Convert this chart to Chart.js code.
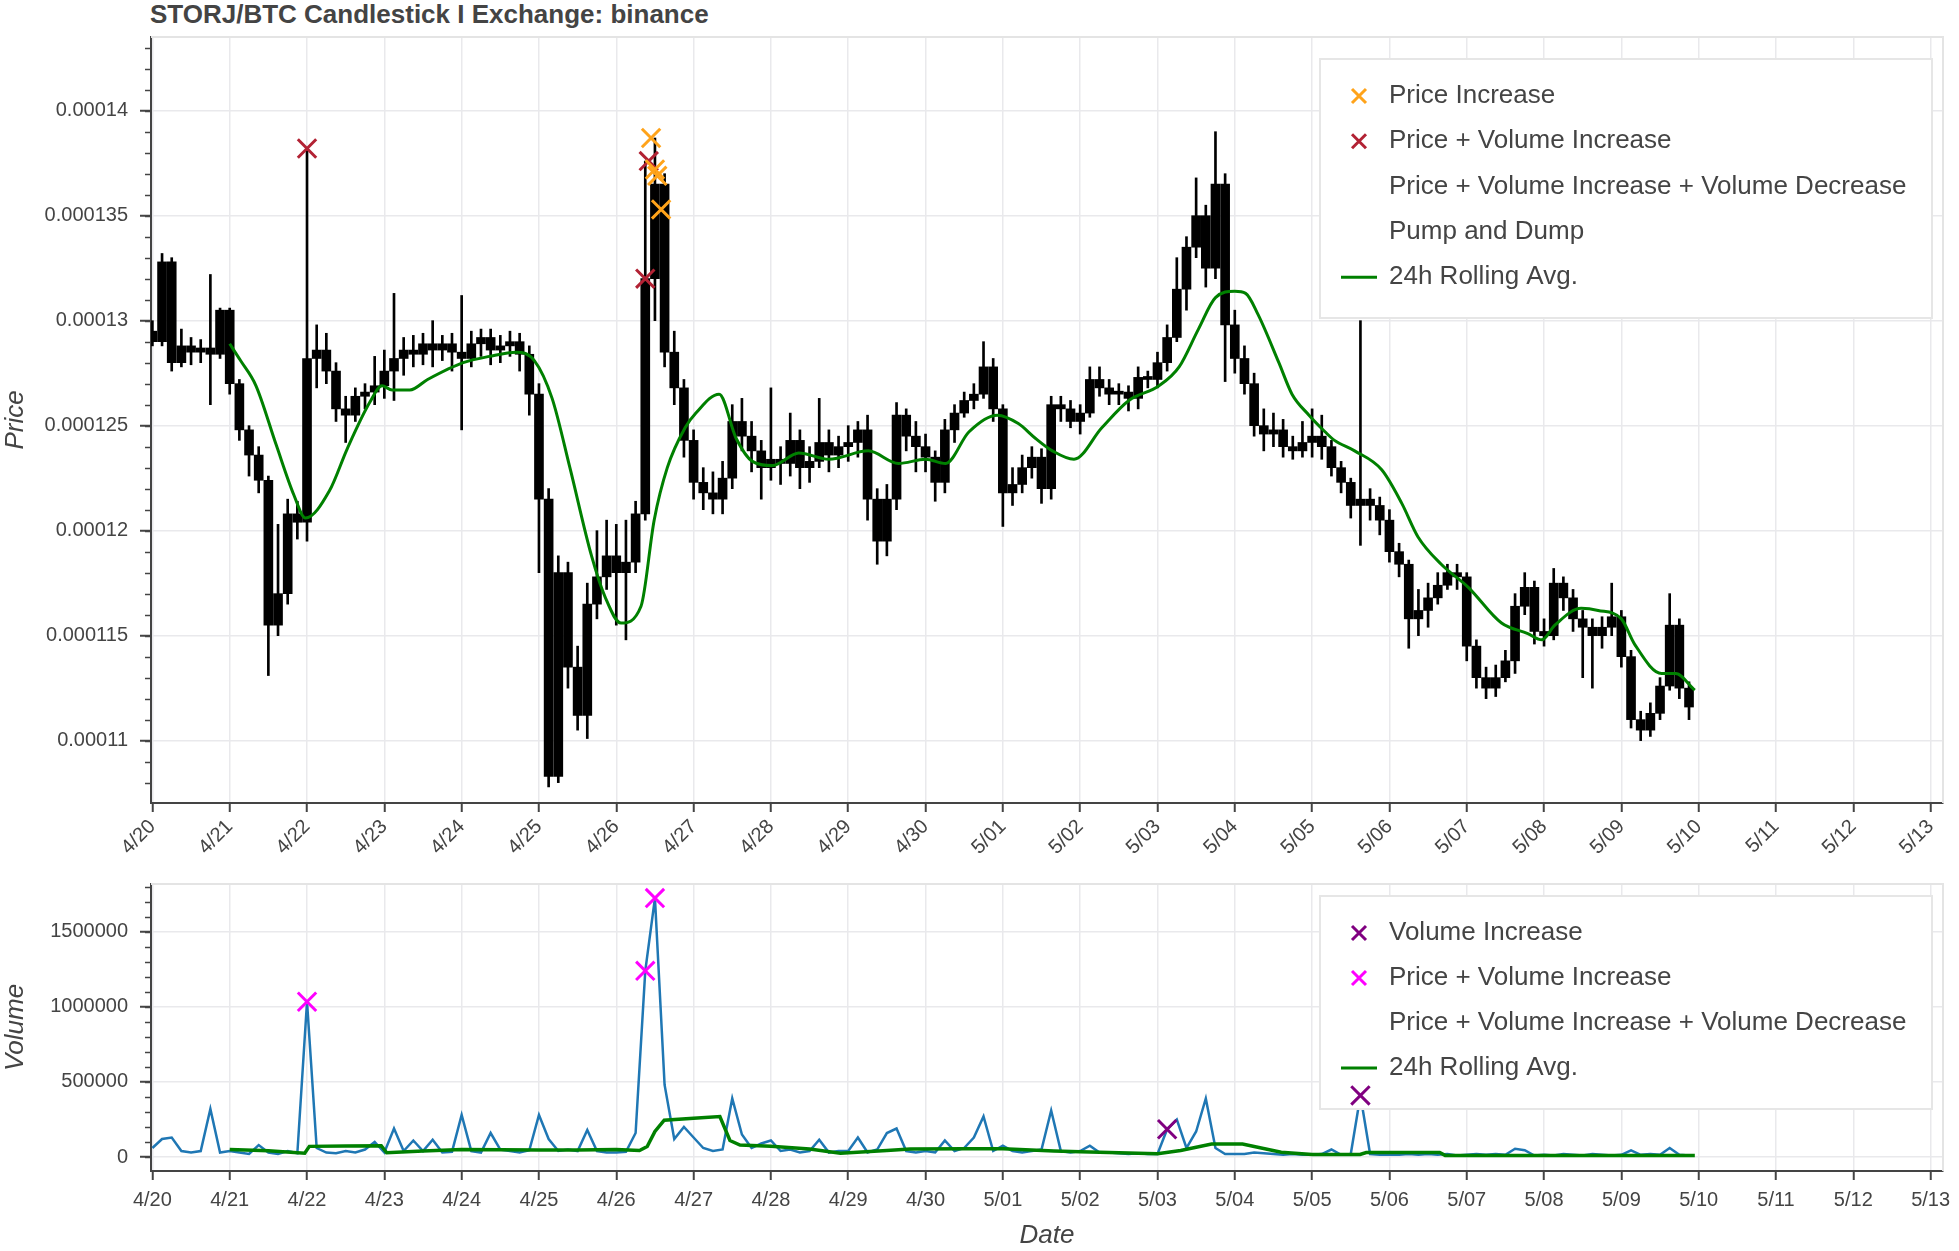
<!DOCTYPE html>
<html>
<head>
<meta charset="utf-8">
<title>STORJ/BTC Candlestick</title>
<script src="https://cdn.jsdelivr.net/npm/chart.js@4.4.1/dist/chart.umd.min.js"></script>
<style>
  html, body { margin: 0; padding: 0; background: #fff; }
  #wrap { position: relative; width: 1959px; height: 1251px; overflow: hidden; }
  #title {
    position: absolute; left: 150px; top: 1px;
    font: bold 26px "Liberation Sans", Arial, sans-serif; line-height: 26px; color: #444;
  }
  #priceBox { position: absolute; left: 0; top: 0; width: 1959px; height: 868px; }
  #volBox { position: absolute; left: 0; top: 868px; width: 1959px; height: 383px; }
</style>
</head>
<body>
<div id="wrap">
  <div id="title">STORJ/BTC Candlestick I Exchange: binance</div>
  <div id="priceBox"><canvas id="priceChart"></canvas></div>
  <div id="volBox"><canvas id="volumeChart"></canvas></div>
</div>
<script>
// prices below are read in micro-BTC, volume in units
const MICRO = 1e-6;
const CANDLE_HOURS = 3; // one candle every 3h starting 4/20 00:00

const dayLabels = ["4/20", "4/21", "4/22", "4/23", "4/24", "4/25", "4/26", "4/27", "4/28", "4/29", "4/30",
   "5/01", "5/02", "5/03", "5/04", "5/05", "5/06", "5/07", "5/08", "5/09", "5/10", "5/11", "5/12", "5/13"];
const priceTickValues = [0.00011, 0.000115, 0.00012, 0.000125, 0.00013, 0.000135, 0.00014];
const volumeTickValues = [0, 500000, 1000000, 1500000];

const openMicro = [
   129.5, 129.0, 132.8, 128.0, 128.8, 128.5, 128.7, 128.4,
   130.5, 127.0, 124.8, 123.6, 122.4, 115.5, 117.0, 120.8,
   120.4, 128.2, 128.6, 127.6, 125.8, 125.5, 126.4, 126.6,
   126.9, 127.6, 128.2, 128.6, 128.4, 128.9, 128.6, 128.9,
   128.5, 128.2, 128.9, 129.2, 128.6, 128.8, 129.0, 128.4,
   126.5, 121.5, 108.3, 118.0, 113.5, 111.2, 116.5, 117.8,
   118.8, 118.0, 118.5, 120.8, 132.0, 136.5, 128.5, 126.8,
   124.3, 122.3, 121.8, 121.5, 122.5, 125.2, 124.5, 123.8,
   123.0, 123.4, 123.2, 124.3, 123.0, 123.3, 124.2, 123.6,
   124.0, 124.2, 124.8, 121.5, 119.5, 121.5, 125.5, 124.5,
   124.0, 123.5, 122.3, 124.8, 125.6, 126.2, 126.5, 127.8,
   125.8, 121.8, 122.2, 123.0, 123.5, 122.0, 126.0, 125.8,
   125.2, 125.6, 127.2, 126.8, 126.5, 126.6, 126.3, 127.3,
   127.2, 128.0, 129.2, 131.5, 133.5, 135.0, 132.5, 136.5,
   129.8, 128.2, 127.0, 125.0, 124.6, 124.8, 124.0, 123.8,
   124.2, 124.5, 124.0, 123.0, 122.3, 121.2, 121.5, 121.2,
   120.5, 119.0, 118.4, 115.8, 116.2, 116.8, 117.4, 118.0,
   117.8, 114.5, 113.0, 112.5, 113.0, 113.8, 116.4, 117.3,
   115.2, 115.0, 117.5, 116.8, 115.8, 115.4, 115.0, 115.4,
   115.9, 114.0, 111.0, 110.5, 111.3, 112.6, 115.5, 112.5
];
const highMicro = [
   130.0, 133.2, 133.0, 129.6, 129.2, 129.1, 132.2, 130.6,
   130.6, 127.2, 125.0, 124.0, 122.6, 120.3, 121.5, 121.4,
   138.2, 129.8, 129.4, 128.0, 126.4, 126.8, 127.0, 128.3,
   128.6, 131.3, 129.2, 129.3, 129.4, 130.0, 129.3, 129.4,
   131.2, 129.5, 129.6, 129.6, 129.3, 129.5, 129.4, 128.8,
   127.0, 122.0, 118.8, 118.5, 114.5, 117.5, 120.0, 120.5,
   120.3, 120.5, 121.4, 137.6, 138.7, 137.0, 129.5, 127.2,
   124.8, 123.0, 122.8, 123.3, 126.0, 126.3, 125.2, 124.3,
   126.8, 124.0, 125.6, 124.8, 124.0, 126.3, 124.8, 124.5,
   125.0, 125.2, 125.5, 122.0, 122.2, 126.1, 125.8, 125.2,
   124.6, 123.8, 125.3, 126.0, 126.6, 127.0, 129.0, 128.2,
   126.0, 123.0, 123.6, 124.0, 123.9, 126.4, 126.4, 126.2,
   126.0, 127.8, 127.8, 127.2, 127.0, 126.9, 127.8, 127.6,
   128.5, 129.8, 133.0, 134.0, 136.8, 135.5, 139.0, 137.0,
   130.5, 128.8, 127.5, 125.8, 125.6, 125.3, 124.5, 125.2,
   125.8, 125.5, 124.3, 123.3, 122.5, 130.0, 122.0, 121.6,
   121.0, 119.4, 118.6, 117.2, 117.5, 118.0, 118.4, 118.4,
   118.0, 114.8, 113.5, 113.6, 114.3, 117.0, 118.0, 117.6,
   115.8, 118.2, 117.8, 117.2, 116.2, 115.8, 115.9, 117.5,
   116.2, 114.3, 111.4, 111.8, 113.0, 117.0, 115.8, 112.8
];
const lowMicro = [
   128.8, 128.8, 127.6, 127.8, 127.9, 128.0, 126.0, 128.2,
   126.5, 124.3, 122.6, 121.8, 113.1, 115.0, 116.5, 119.6,
   119.5, 126.8, 127.0, 125.2, 124.2, 125.2, 125.8, 126.0,
   126.3, 126.2, 127.4, 127.8, 127.9, 127.8, 128.1, 127.6,
   124.8, 127.8, 128.3, 127.9, 128.0, 128.3, 127.6, 125.5,
   118.0, 107.8, 108.0, 112.5, 110.5, 110.1, 115.8, 117.2,
   115.5, 114.8, 118.0, 120.5, 130.0, 127.8, 126.0, 123.5,
   121.5, 121.0, 120.8, 120.8, 122.0, 123.8, 122.8, 121.5,
   122.4, 122.2, 122.6, 122.0, 122.3, 123.0, 122.8, 123.0,
   123.3, 123.5, 120.5, 118.4, 118.8, 121.0, 123.8, 122.8,
   122.8, 121.4, 121.8, 124.2, 125.4, 125.8, 126.3, 125.2,
   120.2, 121.2, 121.8, 122.5, 121.3, 121.5, 125.2, 124.9,
   124.6, 125.4, 126.4, 126.0, 126.0, 125.7, 125.8, 126.8,
   126.8, 127.6, 129.0, 130.5, 133.0, 131.6, 132.0, 127.1,
   127.5, 126.5, 124.5, 123.8, 124.0, 123.5, 123.4, 123.5,
   123.5, 123.4, 122.6, 121.8, 120.6, 119.3, 120.5, 119.8,
   118.5, 117.8, 114.4, 115.0, 115.4, 116.5, 117.2, 117.2,
   113.8, 112.5, 112.0, 112.1, 112.8, 113.2, 116.0, 114.6,
   114.5, 114.8, 116.2, 115.2, 113.0, 112.5, 114.4, 115.0,
   113.5, 110.6, 110.0, 110.2, 111.0, 112.4, 112.0, 111.0
];
const closeMicro = [
   129.0, 132.8, 128.0, 128.8, 128.5, 128.7, 128.4, 130.5,
   127.0, 124.8, 123.6, 122.4, 115.5, 117.0, 120.8, 120.4,
   128.2, 128.6, 127.6, 125.8, 125.5, 126.4, 126.6, 126.9,
   127.6, 128.2, 128.6, 128.4, 128.9, 128.6, 128.9, 128.5,
   128.2, 128.9, 129.2, 128.6, 128.8, 129.0, 128.4, 126.5,
   121.5, 108.3, 118.0, 113.5, 111.2, 116.5, 117.8, 118.8,
   118.0, 118.5, 120.8, 132.0, 136.5, 128.5, 126.8, 124.3,
   122.3, 121.8, 121.5, 122.5, 125.2, 124.5, 123.8, 123.0,
   123.4, 123.2, 124.3, 123.0, 123.3, 124.2, 123.6, 124.0,
   124.2, 124.8, 121.5, 119.5, 121.5, 125.5, 124.5, 124.0,
   123.5, 122.3, 124.8, 125.6, 126.2, 126.5, 127.8, 125.8,
   121.8, 122.2, 123.0, 123.5, 122.0, 126.0, 125.8, 125.2,
   125.6, 127.2, 126.8, 126.5, 126.6, 126.3, 127.3, 127.2,
   128.0, 129.2, 131.5, 133.5, 135.0, 132.5, 136.5, 129.8,
   128.2, 127.0, 125.0, 124.6, 124.8, 124.0, 123.8, 124.2,
   124.5, 124.0, 123.0, 122.3, 121.2, 121.5, 121.2, 120.5,
   119.0, 118.4, 115.8, 116.2, 116.8, 117.4, 118.0, 117.8,
   114.5, 113.0, 112.5, 113.0, 113.8, 116.4, 117.3, 115.2,
   115.0, 117.5, 116.8, 115.8, 115.4, 115.0, 115.4, 115.9,
   114.0, 111.0, 110.5, 111.3, 112.6, 115.5, 112.5, 111.6
];
const volume = [
   60000, 120000, 130000, 40000, 30000, 40000, 320000, 30000,
   40000, 30000, 20000, 80000, 30000, 20000, 40000, 25000,
   1034000, 60000, 30000, 25000, 40000, 30000, 50000, 100000,
   30000, 190000, 40000, 110000, 40000, 115000, 30000, 35000,
   280000, 40000, 30000, 160000, 50000, 40000, 30000, 45000,
   280000, 120000, 40000, 50000, 40000, 180000, 40000, 30000,
   30000, 35000, 160000, 1240000, 1724000, 480000, 120000, 200000,
   130000, 60000, 40000, 50000, 390000, 150000, 60000, 90000,
   110000, 40000, 50000, 30000, 40000, 115000, 30000, 40000,
   40000, 130000, 30000, 50000, 160000, 190000, 40000, 30000,
   40000, 30000, 110000, 40000, 60000, 130000, 270000, 40000,
   75000, 40000, 30000, 40000, 50000, 310000, 40000, 30000,
   40000, 75000, 30000, 30000, 25000, 20000, 25000, 20000,
   20000, 185000, 250000, 60000, 170000, 390000, 60000, 20000,
   20000, 20000, 30000, 25000, 20000, 15000, 20000, 15000,
   15000, 20000, 50000, 15000, 20000, 410000, 20000, 15000,
   15000, 15000, 20000, 15000, 20000, 15000, 20000, 10000,
   15000, 20000, 15000, 20000, 15000, 55000, 45000, 10000,
   15000, 10000, 20000, 15000, 10000, 20000, 15000, 10000,
   15000, 45000, 15000, 20000, 15000, 60000, 15000, 10000
];

// 24h rolling averages (day offset from 4/20 00:00)
const rollDays = [1.0, 1.14, 1.34, 1.6, 1.83, 1.98, 2.29, 2.52, 2.81, 2.97, 3.1, 3.33, 3.56, 4.02, 4.36, 4.71,
   4.94, 5.17, 5.4, 5.68, 5.86, 6.06, 6.32, 6.49, 6.66, 6.89, 7.03, 7.33, 7.55, 7.76, 8.02, 8.36, 8.75, 9.26,
   9.65, 10.0, 10.26, 10.56, 10.93, 11.2, 11.42, 11.64, 11.92, 12.28, 12.63, 13.02, 13.28, 13.53, 13.75, 14.0,
   14.14, 14.3, 14.57, 14.74, 14.96, 15.17, 15.29, 15.55, 15.9, 16.16, 16.37, 16.67, 17.02, 17.45, 17.79,
   17.97, 18.14, 18.48, 18.7, 19.0, 19.17, 19.52, 19.7, 19.95];
const rollPriceMicro = [128.9, 128.1, 126.9, 124.1, 121.7, 120.6, 121.9, 123.9, 126.1, 126.9, 126.7, 126.7, 127.2,
   128.0, 128.3, 128.5, 128.1, 126.3, 123.0, 118.8, 116.8, 115.6, 116.4, 120.5, 123.0, 124.9, 125.6, 126.5,
   124.4, 123.3, 123.1, 123.7, 123.4, 123.8, 123.2, 123.4, 123.2, 124.7, 125.5, 125.1, 124.4, 123.8, 123.4,
   124.9, 126.2, 126.9, 127.8, 129.6, 131.1, 131.4, 131.3, 130.3, 128.0, 126.5, 125.5, 124.7, 124.3, 123.8,
   122.9, 121.3, 119.7, 118.4, 117.3, 115.6, 115.1, 114.8, 115.5, 116.3, 116.2, 115.8, 114.6, 113.2, 113.2, 112.4];
const volRollDays = [1.0, 1.5, 1.97, 2.03, 2.5, 2.96, 3.03, 3.5, 4.0, 4.5, 5.0, 5.5, 6.0, 6.3, 6.4, 6.5, 6.62,
   7.0, 7.34, 7.47, 7.6, 8.0, 8.5, 8.9, 9.5, 9.8, 10.5, 11.0, 11.66, 12.0, 12.5, 13.0, 13.3, 13.7, 14.1, 14.6,
   15.0, 15.62, 15.7, 16.65, 16.72, 19.95];
const volRoll = [50000, 42000, 25000, 71000, 73000, 75000, 28000, 40000, 50000, 48000, 47000, 47000, 50000,
   43000, 70000, 170000, 245000, 258000, 270000, 110000, 80000, 72000, 54000, 25000, 43000, 54000, 55000,
   55000, 40000, 35000, 28000, 22000, 43000, 86000, 86000, 32000, 17000, 17000, 30000, 30000, 11000, 11000];

// signal markers
const priceIncDays = [6.45, 6.5, 6.53, 6.58];
const priceIncMicro = [138.7, 137.2, 136.9, 135.3];
const priceVolIncDays = [2.0, 6.375, 6.42];
const priceVolIncMicro = [138.2, 132.0, 137.6];
const priceVolDecrease = [];
const pumpAndDump = [];
const volIncDays = [13.125, 15.625];
const volIncValues = [185000, 410000];
const volPriceIncDays = [2.0, 6.375, 6.5];
const volPriceIncValues = [1034000, 1240000, 1724000];

const X_MIN = -0.018, X_MAX = 23.16;
const GRID = "#e9e9ec";
const INK = "#444";

Chart.defaults.font.family = '"Liberation Sans", Arial, sans-serif';
Chart.defaults.color = INK;

const candleDays = closeMicro.map((_, i) => (i * CANDLE_HOURS) / 24);
const pts = (xs, ys, k = 1) => xs.map((x, i) => ({ x: x, y: ys[i] * k }));

// light frame, minor ticks and a boxed legend inside the plot
const decorations = {
   id: "decorations",
   beforeDatasetsDraw(chart, args, opts) {
      const a = chart.chartArea;
      const ctx = chart.ctx;
      ctx.save();
      ctx.strokeStyle = "#e4e4e4";
      ctx.lineWidth = 2;
      ctx.beginPath();
      ctx.moveTo(a.left, a.top);
      ctx.lineTo(a.right, a.top);
      ctx.lineTo(a.right, a.bottom);
      ctx.stroke();
      ctx.restore();
   },
   afterDatasetDraw(chart, args, opts) {
      if (args.index !== opts.afterIndex) return;
      const ctx = chart.ctx;
      ctx.save();
      ctx.fillStyle = "#fff";
      ctx.fillRect(opts.x, opts.y, opts.w, opts.h);
      ctx.strokeStyle = "#e6e6e6";
      ctx.lineWidth = 2;
      ctx.strokeRect(opts.x, opts.y, opts.w, opts.h);
      ctx.font = '26px "Liberation Sans", Arial, sans-serif';
      ctx.textBaseline = "middle";
      chart.data.datasets.filter((d) => d.legendGlyph).forEach((d, k) => {
         const cy = opts.rowY + k * opts.rowGap;
         const gx = opts.glyphX;
         ctx.strokeStyle = d.borderColor;
         ctx.lineWidth = 3;
         ctx.beginPath();
         if (d.legendGlyph === "cross") {
            ctx.moveTo(gx - 7, cy - 7);
            ctx.lineTo(gx + 7, cy + 7);
            ctx.moveTo(gx + 7, cy - 7);
            ctx.lineTo(gx - 7, cy + 7);
         } else if (d.legendGlyph === "line") {
            ctx.moveTo(gx - 18, cy);
            ctx.lineTo(gx + 18, cy);
         }
         ctx.stroke();
         ctx.fillStyle = INK;
         ctx.fillText(d.label, opts.textX, cy);
      });
      ctx.restore();
   },
   afterDraw(chart, args, opts) {
      const y = chart.scales.y;
      const ctx = chart.ctx;
      ctx.save();
      ctx.strokeStyle = INK;
      ctx.lineWidth = 1.5;
      const first = Math.ceil(y.min / opts.minorStep);
      const last = Math.floor(y.max / opts.minorStep);
      for (let n = first; n <= last; n++) {
         const py = Math.round(y.getPixelForValue(n * opts.minorStep)) + 0.5;
         ctx.beginPath();
         ctx.moveTo(y.right - 6, py);
         ctx.lineTo(y.right, py);
         ctx.stroke();
      }
      ctx.restore();
   },
};

function dayAxis(rotated, title) {
   return {
      type: "linear",
      min: X_MIN,
      max: X_MAX,
      offset: false,
      afterBuildTicks: (s) => {
         s.ticks = dayLabels.map((_, i) => ({ value: i }));
      },
      afterFit: (s) => {
         s.height = rotated ? 65 : 80;
         s.paddingLeft = 0;
         s.paddingRight = 0;
      },
      ticks: {
         autoSkip: false,
         minRotation: rotated ? 45 : 0,
         maxRotation: rotated ? 45 : 0,
         padding: rotated ? 3 : 8,
         color: INK,
         font: { size: 20 },
         callback: (v) => dayLabels[v],
      },
      grid: { color: GRID, lineWidth: 1.5, tickLength: 9, tickColor: INK, tickWidth: 2, offset: false },
      border: { color: INK, width: 2 },
      title: {
         display: !!title,
         text: title,
         color: INK,
         font: { size: 26, style: "italic" },
         padding: { top: 0, bottom: 0 },
      },
   };
}

function valueAxis(min, max, tickValues, title) {
   return {
      type: "linear",
      min: min,
      max: max,
      beginAtZero: false,
      afterBuildTicks: (s) => {
         s.ticks = tickValues.map((v) => ({ value: v }));
      },
      afterFit: (s) => {
         s.width = 151;
         s.paddingTop = 0;
         s.paddingBottom = 0;
      },
      ticks: { color: INK, font: { size: 20 }, padding: 12, callback: (v) => String(v) },
      grid: { color: GRID, lineWidth: 1.5, tickLength: 11, tickColor: INK, tickWidth: 2 },
      border: { color: INK, width: 2 },
      title: { display: true, text: title, color: INK, font: { size: 26, style: "italic" }, padding: 0 },
   };
}

function crossSet(label, color, xs, ys, k) {
   return {
      type: "scatter",
      label: label,
      legendGlyph: "cross",
      data: pts(xs, ys, k),
      pointStyle: "crossRot",
      pointRadius: 13,
      borderWidth: 3,
      borderColor: color,
      backgroundColor: color,
      order: 0,
   };
}

new Chart(document.getElementById("priceChart"), {
   type: "bar",
   data: {
      datasets: [
         crossSet("Price Increase", "#ffa31a", priceIncDays, priceIncMicro, MICRO),
         crossSet("Price + Volume Increase", "#b22234", priceVolIncDays, priceVolIncMicro, MICRO),
         { type: "scatter", label: "Price + Volume Increase + Volume Decrease", legendGlyph: "none", data: priceVolDecrease, borderColor: "#fff" },
         { type: "scatter", label: "Pump and Dump", legendGlyph: "none", data: pumpAndDump, borderColor: "#fff" },
         {
            type: "line",
            label: "24h Rolling Avg.",
            legendGlyph: "line",
            data: pts(rollDays, rollPriceMicro, MICRO),
            borderColor: "#008000",
            borderWidth: 3,
            pointRadius: 0,
            cubicInterpolationMode: "monotone",
            order: 1,
         },
         {
            label: "body",
            data: candleDays.map((d, i) => ({ x: d, y: [openMicro[i] * MICRO, closeMicro[i] * MICRO] })),
            backgroundColor: "#000",
            barPercentage: 1,
            categoryPercentage: 1,
            maxBarThickness: 9,
            minBarLength: 3,
            grouped: false,
            order: 2,
         },
         {
            label: "wick",
            data: candleDays.map((d, i) => ({ x: d, y: [lowMicro[i] * MICRO, highMicro[i] * MICRO] })),
            backgroundColor: "#000",
            barPercentage: 1,
            categoryPercentage: 1,
            maxBarThickness: 2,
            grouped: false,
            order: 3,
         },
      ],
   },
   options: {
      responsive: true,
      maintainAspectRatio: false,
      animation: false,
      events: [],
      layout: { padding: { top: 37, right: 8, left: 0, bottom: 0 } },
      scales: {
         x: dayAxis(true, ""),
         y: valueAxis(0.00010703, 0.00014351, priceTickValues, "Price"),
      },
      plugins: {
         legend: { display: false },
         tooltip: { enabled: false },
         decorations: {
            minorStep: 1e-6,
            afterIndex: 4,
            x: 1320, y: 59, w: 612, h: 259,
            rowY: 96, rowGap: 45.3, glyphX: 1359, textX: 1389,
         },
      },
   },
   plugins: [decorations],
});

new Chart(document.getElementById("volumeChart"), {
   type: "line",
   data: {
      datasets: [
         crossSet("Volume Increase", "#800080", volIncDays, volIncValues, 1),
         crossSet("Price + Volume Increase", "#ff00ff", volPriceIncDays, volPriceIncValues, 1),
         { type: "scatter", label: "Price + Volume Increase + Volume Decrease", legendGlyph: "none", data: priceVolDecrease, borderColor: "#fff" },
         {
            label: "24h Rolling Avg.",
            legendGlyph: "line",
            data: pts(volRollDays, volRoll),
            borderColor: "#008000",
            borderWidth: 3.5,
            pointRadius: 0,
            order: 1,
         },
         {
            label: "volume",
            data: pts(candleDays, volume),
            borderColor: "#1f77b4",
            borderWidth: 2.5,
            pointRadius: 0,
            order: 2,
         },
      ],
   },
   options: {
      responsive: true,
      maintainAspectRatio: false,
      animation: false,
      events: [],
      layout: { padding: { top: 7, right: 8, left: 0, bottom: 0 } },
      scales: {
         x: dayAxis(false, "Date"),
         y: valueAxis(-93000, 1818000, volumeTickValues, "Volume"),
      },
      plugins: {
         legend: { display: false },
         tooltip: { enabled: false },
         decorations: {
            minorStep: 100000,
            afterIndex: 3,
            x: 1320, y: 28, w: 612, h: 213,
            rowY: 65, rowGap: 45, glyphX: 1359, textX: 1389,
         },
      },
   },
   plugins: [decorations],
});
</script>
</body>
</html>
